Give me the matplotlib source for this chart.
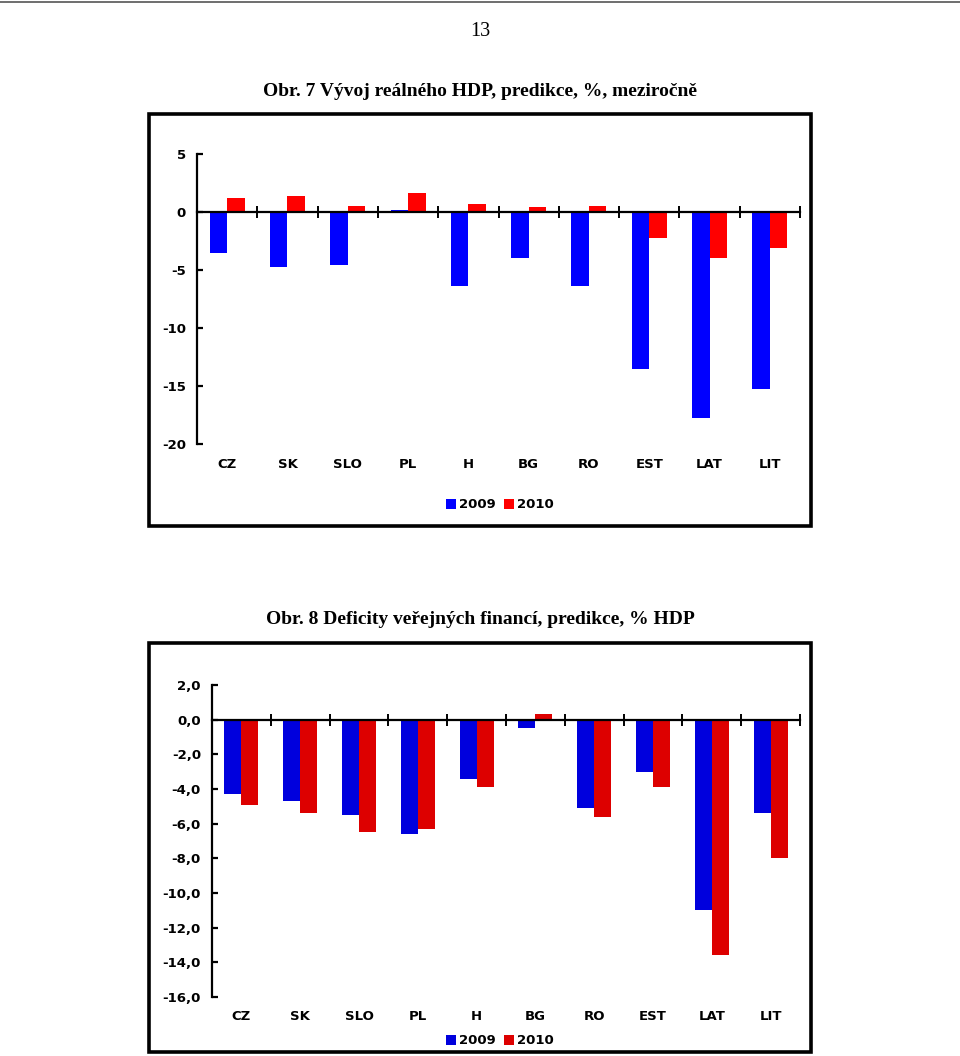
import matplotlib
matplotlib.use("Agg")
import matplotlib.pyplot as plt
import numpy as np
from matplotlib.patches import Rectangle
from matplotlib.lines import Line2D

# ---------------- data ----------------
categories = ["CZ", "SK", "SLO", "PL", "H", "BG", "RO", "EST", "LAT", "LIT"]
series_names = ["2009", "2010"]

gdp_2009 = [-3.5, -4.7, -4.6, 0.2, -6.4, -4.0, -6.4, -13.5, -17.8, -15.3]
gdp_2010 = [1.2, 1.4, 0.5, 1.6, 0.7, 0.4, 0.5, -2.2, -4.0, -3.1]
gdp_yticks = [5, 0, -5, -10, -15, -20]
gdp_ytick_labels = ["5", "0", "-5", "-10", "-15", "-20"]

def_2009 = [-4.3, -4.7, -5.5, -6.6, -3.4, -0.5, -5.1, -3.0, -11.0, -5.4]
def_2010 = [-4.9, -5.4, -6.5, -6.3, -3.9, 0.3, -5.6, -3.9, -13.6, -8.0]
def_yticks = [2, 0, -2, -4, -6, -8, -10, -12, -14, -16]
def_ytick_labels = ["2,0", "0,0", "-2,0", "-4,0", "-6,0", "-8,0", "-10,0", "-12,0", "-14,0", "-16,0"]

page_number = "13"
title1 = "Obr. 7 Vývoj reálného HDP, predikce, %, meziročně"
title2 = "Obr. 8 Deficity veřejných financí, predikce, % HDP"

# ---------------- layout ----------------
W, H = 960, 1056
fig = plt.figure(figsize=(W / 100, H / 100), dpi=100)

def fx(px):
    return px / W

def fy(py):
    return 1 - py / H

LABEL_FONT = dict(family="DejaVu Sans", weight="bold", size=9.5)

# top rule and page number
fig.add_artist(Line2D([0, 1], [fy(2), fy(2)], color="#555555", lw=1.2))
fig.text(fx(480), fy(31), page_number, ha="center", va="center",
         family="Liberation Serif", size=14.5)


def draw_chart(box, plot_px, y_range, v1, v2, yticks, ytick_labels,
               c1, c2, title, title_y, cat_y, leg_y):
    # frame
    x0, y0, x1, y1 = box
    fig.add_artist(Rectangle((fx(x0), fy(y1)), fx(x1) - fx(x0), fy(y0) - fy(y1),
                             fill=False, ec="black", lw=2.6))
    fig.text(fx(480), fy(title_y), title, ha="center", va="center",
             family="Liberation Serif", weight="bold", size=14)

    px0, py_top, px1, py_bot = plot_px
    ax = fig.add_axes([fx(px0), fy(py_bot), fx(px1) - fx(px0), fy(py_top) - fy(py_bot)])
    n = len(categories)
    x = np.arange(n)
    w = 0.29
    b1 = ax.bar(x - w / 2, v1, width=w, color=c1, label=series_names[0])
    b2 = ax.bar(x + w / 2, v2, width=w, color=c2, label=series_names[1])
    ax.set_xlim(-0.5, n - 0.5)
    ax.set_ylim(*y_range)

    for s in ["top", "right"]:
        ax.spines[s].set_visible(False)
    ax.spines["bottom"].set_position(("data", 0))
    ax.spines["bottom"].set_linewidth(1.6)
    ax.spines["left"].set_linewidth(1.6)

    ax.set_xticks(x + 0.5)
    ax.set_xticklabels([])
    ax.tick_params(axis="x", direction="inout", length=9, width=1.4)
    ax.set_yticks(yticks)
    ax.set_yticklabels(ytick_labels, fontdict=LABEL_FONT)
    ax.tick_params(axis="y", direction="in", length=4, width=1.6, pad=8)
    ax.set_facecolor("none")

    trans = ax.get_xaxis_transform()
    ybase = (fy(cat_y) - fy(py_bot)) / (fy(py_top) - fy(py_bot))
    for i, c in enumerate(categories):
        ax.text(i, ybase, c, transform=trans, ha="center", va="center",
                clip_on=False, **LABEL_FONT)

    fig.legend(handles=[b1, b2], loc="center", bbox_to_anchor=(fx(500), fy(leg_y)),
               ncol=2, frameon=False, handlelength=0.75, handleheight=0.75,
               handletextpad=0.25, columnspacing=0.6,
               prop=dict(family="DejaVu Sans", weight="bold", size=9.5))
    return ax


draw_chart(box=(149, 114, 811, 526), plot_px=(197, 154, 800, 444), y_range=(-20, 5),
           v1=gdp_2009, v2=gdp_2010, yticks=gdp_yticks, ytick_labels=gdp_ytick_labels,
           c1="#0000FF", c2="#FF0000", title=title1, title_y=91, cat_y=464, leg_y=505)

draw_chart(box=(149, 643, 811, 1052), plot_px=(212, 685, 800, 997), y_range=(-16, 2),
           v1=def_2009, v2=def_2010, yticks=def_yticks, ytick_labels=def_ytick_labels,
           c1="#0000DD", c2="#DD0000", title=title2, title_y=620, cat_y=1016, leg_y=1041)

fig.savefig("out.png", dpi=100)
